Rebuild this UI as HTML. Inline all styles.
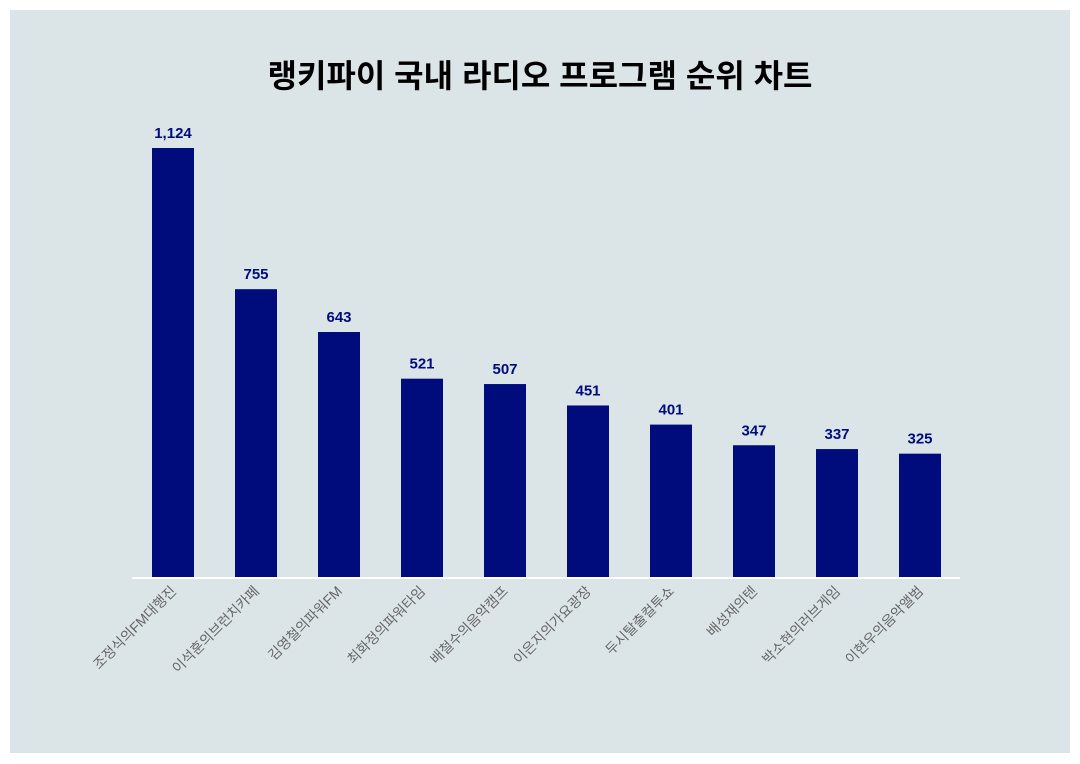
<!DOCTYPE html>
<html><head><meta charset="utf-8"><style>
body{margin:0;background:#fff;}
svg{display:block;font-family:"Liberation Sans","Noto Sans CJK KR",sans-serif;}
</style></head><body>
<svg id="chart" width="1080" height="764">
<rect x="10" y="10" width="1060" height="743" fill="#dbe5e8"/>
<text x="540" y="87" text-anchor="middle" font-size="32" font-weight="bold" fill="#000">랭키파이 국내 라디오 프로그램 순위 차트</text>
<g id="bars"></g>
<line x1="132" y1="578" x2="960" y2="578" stroke="#fff" stroke-width="2"/>
</svg>
<script>
const categories=["조정식의FM대행진","이석훈의브런치카페","김영철의파워FM","최화정의파워타임","배철수의음악캠프","이은지의가요광장","두시탈출컬투쇼","배성재의텐","박소현의러브게임","이현우의음악앨범"];
const values=[1124,755,643,521,507,451,401,347,337,325];
const valueLabels=["1,124","755","643","521","507","451","401","347","337","325"];
const base=578, scale=430/1124, x0=173, step=83, bw=42;
const yS=v=>base-v*scale;
const xS=i=>x0+i*step;
const g=document.getElementById('bars');
const ns='http://www.w3.org/2000/svg';
categories.forEach((c,i)=>{
  const r=document.createElementNS(ns,'rect');
  r.setAttribute('x',xS(i)-bw/2);r.setAttribute('y',yS(values[i]));
  r.setAttribute('width',bw);r.setAttribute('height',base-yS(values[i]));
  r.setAttribute('fill','#000c7b');
  
  
  g.appendChild(r);
  const t=document.createElementNS(ns,'text');
  t.setAttribute('x',xS(i));t.setAttribute('y',yS(values[i])-10);
  t.setAttribute('text-anchor','middle');t.setAttribute('font-size','15');
  t.setAttribute('font-weight','bold');t.setAttribute('fill','#000c7b');
  t.textContent=valueLabels[i];
  
  
  g.appendChild(t);
  const l=document.createElementNS(ns,'text');
  l.setAttribute('transform','translate('+(xS(i)+4)+',592) rotate(-45)');
  l.setAttribute('text-anchor','end');l.setAttribute('font-size','14');
  l.setAttribute('fill','#666');
  l.textContent=c;
  
  
  g.appendChild(l);
});
</script>
</body></html>
